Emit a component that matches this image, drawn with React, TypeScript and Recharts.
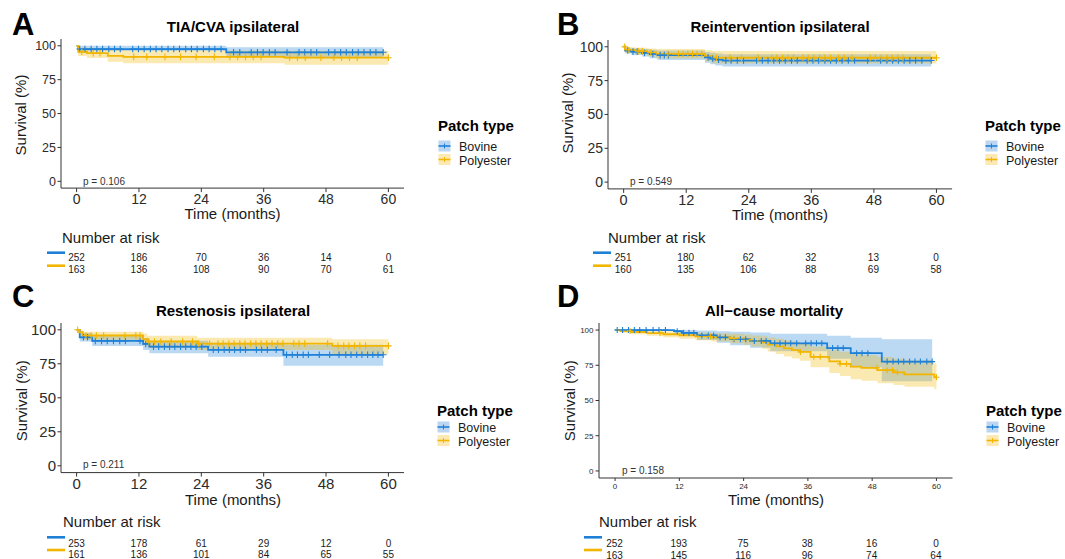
import React from 'react';
import { ComposedChart, Line, Area, Scatter, XAxis, YAxis } from 'recharts';

const BLUE = '#1F80D8';
const YELLOW = '#F2B500';
const BLUE_KEY = '#BCD6F1';
const YELLOW_KEY = '#FBE8B2';
const FONT = '"Liberation Sans", Arial, Helvetica, sans-serif';
const TXT = '#1a1a1a';
const TICK = '#2b2b2b';
const AXIS = '#333333';

const timeTicks = [0, 12, 24, 36, 48, 60];
const survTicks = [0, 25, 50, 75, 100];
const groupLabels = ['Bovine', 'Polyester'];

// ---------- Panel A: TIA/CVA ipsilateral ----------
const aBlueT = [0, 0.3, 28.8];
const aBlueS = [100, 97.6, 95.2];
const aBlueLo = [100, 96.2, 91.8];
const aBlueHi = [100, 100, 98.9];
const aBlueEnd = 59;
const aBlueCens = [0.6, 1.6, 2.8, 3.9, 5, 6.2, 7.3, 8.4, 10.8, 11.9, 13, 14.2, 15.3, 16.4, 17.6, 18.7, 19.8, 21, 22.1, 23.2, 24.4, 25.5, 26.6, 27.8, 30.2, 31.4, 33.6, 34.8, 35.9, 37.1, 38.2, 40.5, 42.8, 43.9, 45.1, 46.2, 48.5, 49.7, 50.8, 51.9, 53.1, 54.2, 55.3, 56.5, 57.6, 59];
const aYelT = [0, 0.3, 2, 6, 9, 40];
const aYelS = [100, 95.6, 94.6, 92.6, 91.8, 91.2];
const aYelLo = [100, 92.4, 91, 88.2, 87.2, 86];
const aYelHi = [100, 98.8, 98.2, 97, 96.5, 96.3];
const aYelEnd = 60;
const aYelCens = [1, 3.2, 4.5, 11, 13.5, 17, 20, 23, 26.5, 29.5, 31, 32.5, 34, 35.5, 41, 42.5, 44, 47, 49.5, 51, 52.5, 54, 60];
const aRiskBlue = [252, 186, 70, 36, 14, 0];
const aRiskYel = [163, 136, 108, 90, 70, 61];

// ---------- Panel B: Reintervention ipsilateral ----------
const bBlueT = [0, 0.3, 1.5, 3.5, 5, 6.5, 15.6, 16.6, 17.6, 19];
const bBlueS = [100, 97.2, 96.4, 95.5, 94.6, 93.8, 92.2, 91.2, 90.5, 89.8];
const bBlueLo = [100, 95, 94, 92.8, 91.5, 90.3, 88.2, 87, 86.2, 85.4];
const bBlueHi = [100, 99.2, 98.8, 98.3, 97.8, 97.3, 96.2, 95.6, 95, 94.5];
const bBlueEnd = 59;
const bBlueCens = [0.8, 1.8, 2.6, 4, 5.6, 7, 7.8, 8.6, 16.2, 17.1, 18.2, 19.6, 20.6, 21.8, 23, 25.5, 26.6, 27.7, 28.8, 29.9, 31, 32.2, 33.3, 35.2, 36.3, 37.4, 38.6, 39.7, 40.8, 41.9, 43.1, 44.3, 46.8, 49.3, 50.5, 51.6, 52.7, 53.8, 54.9, 56, 57.2, 59];
const bYelT = [0, 0.3, 2.2, 4.5, 6.2, 15.6, 17];
const bYelS = [100, 97.6, 96.8, 95.8, 94.8, 93.2, 91.9];
const bYelLo = [100, 95.5, 94.4, 92.8, 91.3, 89.2, 87.6];
const bYelHi = [100, 99.6, 99.2, 98.8, 98.3, 97.4, 96.8];
const bYelEnd = 60;
const bYelCens = [0.2, 1, 2.8, 3.6, 5.2, 8.5, 10.5, 11.4, 12.3, 13.2, 14.1, 15, 17.8, 20.4, 22.6, 25.8, 28.4, 29.4, 30.5, 31.5, 32.6, 34.4, 35.4, 36.5, 37.6, 38.6, 39.7, 41.2, 42.3, 43.8, 47.3, 48.3, 49.4, 50.5, 51.5, 52.6, 53.6, 60];
const bRiskBlue = [251, 180, 62, 32, 13, 0];
const bRiskYel = [160, 135, 106, 88, 69, 58];

// ---------- Panel C: Restenosis ipsilateral ----------
const cBlueT = [0, 0.6, 3, 12.8, 14, 25.3, 39.8];
const cBlueS = [100, 94.5, 91.8, 89.6, 87.6, 85.3, 81.6];
const cBlueLo = [100, 91.4, 88, 85.2, 82.8, 80.2, 73.6];
const cBlueHi = [100, 97.6, 95.6, 93.8, 92, 90.5, 89];
const cBlueEnd = 59;
const cBlueCens = [1.3, 2.1, 3.6, 4.8, 5.9, 7.1, 8.3, 9.4, 12.2, 13.3, 14.8, 15.8, 16.9, 17.9, 18.9, 20, 21, 22, 23, 24.1, 26.3, 27.3, 28.4, 29.4, 30.4, 31.5, 32.5, 34.6, 35.6, 36.7, 38.4, 40.4, 41.5, 42.5, 43.6, 44.6, 46.7, 48.7, 50.5, 51.8, 52.8, 53.9, 54.9, 56, 57, 58, 59];
const cYelT = [0, 0.5, 1.2, 12.8, 13.6, 23.2, 49.2];
const cYelS = [100, 98.2, 95.8, 93.2, 91.4, 89.8, 88.2];
const cYelLo = [100, 95.8, 92.6, 88.7, 86.6, 85.1, 82];
const cYelHi = [100, 100, 98.6, 97.2, 95.6, 94.2, 93];
const cYelEnd = 60;
const cYelCens = [0.2, 1.8, 2.8, 3.8, 5.2, 9.3, 11.4, 12.2, 13.9, 15, 16.2, 18.2, 20.4, 22.3, 23.5, 25.6, 27.2, 28.2, 29.3, 30.3, 31.4, 32.4, 33.5, 34.5, 35.5, 36.6, 37.6, 38.7, 39.7, 41.8, 42.8, 43.9, 48.3, 50.3, 51.4, 52.4, 53.5, 54.5, 55.6, 60];
const cRiskBlue = [253, 178, 61, 29, 12, 0];
const cRiskYel = [161, 136, 101, 84, 65, 55];

// ---------- Panel D: All-cause mortality ----------
const dBlueT = [0, 11, 12.5, 15.3, 19, 21.5, 25.2, 29, 39.6, 44, 49.8];
const dBlueS = [100, 99.2, 98, 96.2, 94.8, 93.5, 92.3, 90.6, 87.2, 83.6, 77.6];
const dBlueLo = [100, 97.6, 95.8, 93, 91, 89.2, 87.4, 85, 79.6, 73.6, 63.6];
const dBlueHi = [100, 100, 100, 99.6, 99.2, 98.8, 98.2, 97.4, 96, 94.6, 93.4];
const dBlueEnd = 59.2;
const dBlueCens = [0.4, 1.4, 2.5, 3.6, 4.6, 5.8, 7.1, 8.2, 9.4, 11.6, 12.8, 13.8, 14.7, 16.2, 17.4, 18.4, 19.6, 20.6, 22.2, 23.4, 24.4, 26, 27.3, 28.2, 29.8, 30.8, 31.8, 32.8, 33.9, 35.6, 36.6, 37.6, 38.6, 40.6, 41.6, 42.6, 45.1, 46.1, 47.2, 50.8, 51.9, 52.9, 53.9, 55, 56, 57, 58.2, 59.2];
const dYelT = [0, 1, 3, 6, 9, 12, 15, 18, 21.5, 24, 25.5, 27.5, 28.5, 30, 31.5, 33, 34.5, 36.5, 40, 42, 44, 46, 49, 52, 54, 59.6];
const dYelS = [100, 99.3, 98.6, 97.8, 97, 96.3, 95.5, 94.8, 94, 93.2, 92.3, 91.2, 89.7, 88.4, 87, 85.8, 84.5, 81, 77.8, 76, 74, 73.2, 71.5, 70, 68.5, 66.5];
const dYelLo = [100, 98, 97, 96, 94.8, 93.8, 92.7, 91.8, 90.7, 89.6, 88.4, 86.8, 84.7, 83, 81.2, 79.8, 78.2, 73.6, 69.6, 67.4, 65, 64, 62.2, 61, 59.8, 58];
const dYelHi = [100, 100, 99.9, 99.6, 99.2, 98.8, 98.3, 97.8, 97.3, 96.8, 96.2, 95.6, 94.7, 93.8, 92.8, 91.8, 90.8, 88.4, 86, 84.6, 83, 82.3, 80.8, 79.6, 78.3, 76.4];
const dYelEnd = 60;
const dYelCens = [2.8, 8.4, 17.8, 22.2, 34.6, 37.1, 38.3, 42, 43.2, 48.9, 50.8, 51.8, 52.7, 60];
const dRiskBlue = [252, 193, 75, 38, 16, 0];
const dRiskYel = [163, 145, 116, 96, 74, 64];

// ---------- helpers ----------
type Row = { t: number; s: number; band: [number, number] };
const rowsOf = (t: number[], s: number[], lo: number[], hi: number[], end: number): Row[] => {
  const rows: Row[] = t.map((x, i) => ({ t: x, s: s[i], band: [lo[i], hi[i]] as [number, number] }));
  const k = t.length - 1;
  rows.push({ t: end, s: s[k], band: [lo[k], hi[k]] });
  return rows;
};
const censOf = (t: number[], s: number[], c: number[]) =>
  c.map((x) => {
    let v = s[0];
    for (let i = 0; i < t.length; i++) if (t[i] <= x) v = s[i];
    return { t: x, s: v };
  });

type Geo = { axisX: number; plotRight: number; plotTop: number; plotBottom: number };
type Series = { color: string; rows: Row[]; cens: { t: number; s: number }[] };

const plusShape = (color: string, r: number) => (p: any) => {
  const { cx, cy } = p;
  if (cx == null || cy == null) return <g />;
  return (
    <path
      d={`M${cx - r},${cy}H${cx + r}M${cx},${cy - r}V${cy + r}`}
      stroke={color}
      strokeWidth={1.1}
      fill="none"
    />
  );
};

const YW = 45;
const XH = 24;

function KMChart(props: {
  geo: Geo;
  blue: Series;
  yel: Series;
  fsX: number;
  fsY: number;
  tsX: number;
  tmX: number;
  tsY: number;
  tmY: number;
  plusR: number;
}) {
  const { geo, blue, yel, fsX, fsY, tsX, tmX, tsY, tmY, plusR } = props;
  const left = geo.axisX - YW;
  const top = geo.plotTop - 8;
  const width = geo.plotRight + 4 - left;
  const height = geo.plotBottom + XH - top;
  return (
    <div style={{ position: 'absolute', left, top, width, height }}>
      <ComposedChart width={width} height={height} margin={{ top: 8, right: 4, bottom: 0, left: 0 }}>
        <XAxis
          type="number"
          dataKey="t"
          domain={[-3, 63]}
          ticks={timeTicks}
          interval={0}
          allowDataOverflow
          height={XH}
          tickSize={tsX}
          tickMargin={tmX}
          axisLine={{ stroke: AXIS, strokeWidth: 1 }}
          tickLine={{ stroke: AXIS, strokeWidth: 1 }}
          tick={{ fontSize: fsX, fill: TICK, fontFamily: FONT }}
        />
        <YAxis
          type="number"
          domain={[-5, 105]}
          ticks={survTicks}
          interval={0}
          allowDataOverflow
          width={YW}
          tickSize={tsY}
          tickMargin={tmY}
          axisLine={{ stroke: AXIS, strokeWidth: 1 }}
          tickLine={{ stroke: AXIS, strokeWidth: 1 }}
          tick={{ fontSize: fsY, fill: TICK, fontFamily: FONT }}
        />
        <Area data={blue.rows} dataKey="band" type="stepAfter" stroke="none" fill={blue.color} fillOpacity={0.3} isAnimationActive={false} activeDot={false} />
        <Area data={yel.rows} dataKey="band" type="stepAfter" stroke="none" fill={yel.color} fillOpacity={0.3} isAnimationActive={false} activeDot={false} />
        <Line data={blue.rows} dataKey="s" type="stepAfter" stroke={blue.color} strokeWidth={1.8} dot={false} activeDot={false} isAnimationActive={false} />
        <Line data={yel.rows} dataKey="s" type="stepAfter" stroke={yel.color} strokeWidth={1.8} dot={false} activeDot={false} isAnimationActive={false} />
        <Scatter data={blue.cens} dataKey="s" shape={plusShape(blue.color, plusR)} isAnimationActive={false} />
        <Scatter data={yel.cens} dataKey="s" shape={plusShape(yel.color, plusR)} isAnimationActive={false} />
      </ComposedChart>
    </div>
  );
}

const geoA: Geo = { axisX: 61, plotRight: 404, plotTop: 38.9, plotBottom: 188 };
const geoB: Geo = { axisX: 607.5, plotRight: 951.6, plotTop: 39.9, plotBottom: 188.8 };
const geoC: Geo = { axisX: 61, plotRight: 404, plotTop: 323.2, plotBottom: 472.8 };
const geoD: Geo = { axisX: 598.5, plotRight: 952, plotTop: 323, plotBottom: 478 };

const xOf = (g: Geo, t: number) => g.axisX + ((t + 3) / 66) * (g.plotRight - g.axisX);

function Legend(p: { x: number; tb: number; r1: number; r2: number }) {
  const { x, tb, r1, r2 } = p;
  const key = (y: number, c: string, f: string) => (
    <g>
      <rect x={x + 0.5} y={y} width={12} height={11} fill={f} />
      <line x1={x + 0.5} x2={x + 12.5} y1={y + 5.5} y2={y + 5.5} stroke={c} strokeWidth={1.6} />
      <line x1={x + 6.5} x2={x + 6.5} y1={y + 3} y2={y + 8} stroke={c} strokeWidth={1} />
    </g>
  );
  return (
    <g fontFamily={FONT}>
      <text x={x} y={tb} fontSize={15} fontWeight="bold" fill="#000">Patch type</text>
      {key(r1 - 10.5, BLUE, BLUE_KEY)}
      {key(r2 - 10.5, YELLOW, YELLOW_KEY)}
      <text x={x + 21} y={r1} fontSize={12.5} fill={TXT}>{groupLabels[0]}</text>
      <text x={x + 21} y={r2} fontSize={12.5} fill={TXT}>{groupLabels[1]}</text>
    </g>
  );
}

function RiskTable(p: { g: Geo; tx: number; tb: number; r1: number; r2: number; lx: number; l1: number; l2: number; blue: number[]; yel: number[] }) {
  const { g, tx, tb, r1, r2, lx, l1, l2, blue, yel } = p;
  return (
    <g fontFamily={FONT}>
      <text x={tx} y={tb} fontSize={15} fill={TXT}>Number at risk</text>
      <line x1={lx} x2={lx + 18} y1={l1} y2={l1} stroke={BLUE} strokeWidth={2.6} />
      <line x1={lx} x2={lx + 18} y1={l2} y2={l2} stroke={YELLOW} strokeWidth={2.6} />
      {blue.map((v, i) => (
        <text key={'b' + i} x={xOf(g, timeTicks[i])} y={r1} fontSize={10} textAnchor="middle" fill={TXT}>{v}</text>
      ))}
      {yel.map((v, i) => (
        <text key={'y' + i} x={xOf(g, timeTicks[i])} y={r2} fontSize={10} textAnchor="middle" fill={TXT}>{v}</text>
      ))}
    </g>
  );
}

const mk = (t: number[], s: number[], lo: number[], hi: number[], end: number, c: number[], color: string): Series => ({
  color,
  rows: rowsOf(t, s, lo, hi, end),
  cens: censOf(t, s, c),
});

export default function App() {
  const aB = mk(aBlueT, aBlueS, aBlueLo, aBlueHi, aBlueEnd, aBlueCens, BLUE);
  const aY = mk(aYelT, aYelS, aYelLo, aYelHi, aYelEnd, aYelCens, YELLOW);
  const bB = mk(bBlueT, bBlueS, bBlueLo, bBlueHi, bBlueEnd, bBlueCens, BLUE);
  const bY = mk(bYelT, bYelS, bYelLo, bYelHi, bYelEnd, bYelCens, YELLOW);
  const cB = mk(cBlueT, cBlueS, cBlueLo, cBlueHi, cBlueEnd, cBlueCens, BLUE);
  const cY = mk(cYelT, cYelS, cYelLo, cYelHi, cYelEnd, cYelCens, YELLOW);
  const dB = mk(dBlueT, dBlueS, dBlueLo, dBlueHi, dBlueEnd, dBlueCens, BLUE);
  const dY = mk(dYelT, dYelS, dYelLo, dYelHi, dYelEnd, dYelCens, YELLOW);

  return (
    <div style={{ position: 'absolute', left: 0, top: 0, width: 1065, height: 559, background: '#fff', overflow: 'hidden', fontFamily: FONT }}>
      <KMChart geo={geoA} blue={aB} yel={aY} fsX={14} fsY={12.5} tsX={4} tmX={2} tsY={3.5} tmY={1.5} plusR={3.3} />
      <KMChart geo={geoB} blue={bB} yel={bY} fsX={14.5} fsY={14} tsX={4} tmX={1.5} tsY={3.5} tmY={1.5} plusR={3.3} />
      <KMChart geo={geoC} blue={cB} yel={cY} fsX={15} fsY={15} tsX={4} tmX={2} tsY={3.5} tmY={1.5} plusR={3.3} />
      <KMChart geo={geoD} blue={dB} yel={dY} fsX={8} fsY={8} tsX={3} tmX={2} tsY={3.5} tmY={2} plusR={3} />
      <svg width={1065} height={559} style={{ position: 'absolute', left: 0, top: 0, pointerEvents: 'none' }}>
        <g fontFamily={FONT} fill="#000">
          <text x={12} y={35} fontSize={31} fontWeight="bold">A</text>
          <text x={557} y={35} fontSize={31} fontWeight="bold">B</text>
          <text x={12} y={307} fontSize={31} fontWeight="bold">C</text>
          <text x={557} y={307} fontSize={31} fontWeight="bold">D</text>

          <text x={233} y={32.4} fontSize={15} fontWeight="bold" textAnchor="middle">TIA/CVA ipsilateral</text>
          <text x={780} y={32.4} fontSize={15} fontWeight="bold" textAnchor="middle">Reintervention ipsilateral</text>
          <text x={233} y={315.7} fontSize={15} fontWeight="bold" textAnchor="middle">Restenosis ipsilateral</text>
          <text x={774} y={316} fontSize={15} fontWeight="bold" textAnchor="middle">All−cause mortality</text>
        </g>
        <g fontFamily={FONT} fill={TXT} fontSize={15} textAnchor="middle">
          <text transform="translate(25.7,115) rotate(-90)">Survival (%)</text>
          <text transform="translate(573,113) rotate(-90)">Survival (%)</text>
          <text transform="translate(27.4,400.8) rotate(-90)">Survival (%)</text>
          <text transform="translate(574.5,400.8) rotate(-90)">Survival (%)</text>
          <text x={232.5} y={219}>Time (months)</text>
          <text x={780} y={219.5}>Time (months)</text>
          <text x={233} y={505}>Time (months)</text>
          <text x={776} y={505}>Time (months)</text>
        </g>
        <g fontFamily={FONT} fill="#333" fontSize={10}>
          <text x={83} y={184.5}>p = 0.106</text>
          <text x={630} y={184.5}>p = 0.549</text>
          <text x={83} y={468}>p = 0.211</text>
          <text x={622} y={474}>p = 0.158</text>
        </g>
        <Legend x={438} tb={131} r1={151} r2={164.5} />
        <Legend x={985} tb={131} r1={151} r2={164.5} />
        <Legend x={437} tb={416} r1={432} r2={445.5} />
        <Legend x={986} tb={416} r1={432} r2={445.5} />
        <RiskTable g={geoA} tx={62} tb={243.3} r1={260.7} r2={273.3} lx={47} l1={252.7} l2={265.7} blue={aRiskBlue} yel={aRiskYel} />
        <RiskTable g={geoB} tx={608} tb={243.3} r1={260.7} r2={273.3} lx={593} l1={252.7} l2={265.7} blue={bRiskBlue} yel={bRiskYel} />
        <RiskTable g={geoC} tx={63} tb={526.5} r1={546.7} r2={557.7} lx={47} l1={537.3} l2={550} blue={cRiskBlue} yel={cRiskYel} />
        <RiskTable g={geoD} tx={599} tb={526.5} r1={547.3} r2={558.5} lx={584} l1={537.3} l2={550} blue={dRiskBlue} yel={dRiskYel} />
      </svg>
    </div>
  );
}
